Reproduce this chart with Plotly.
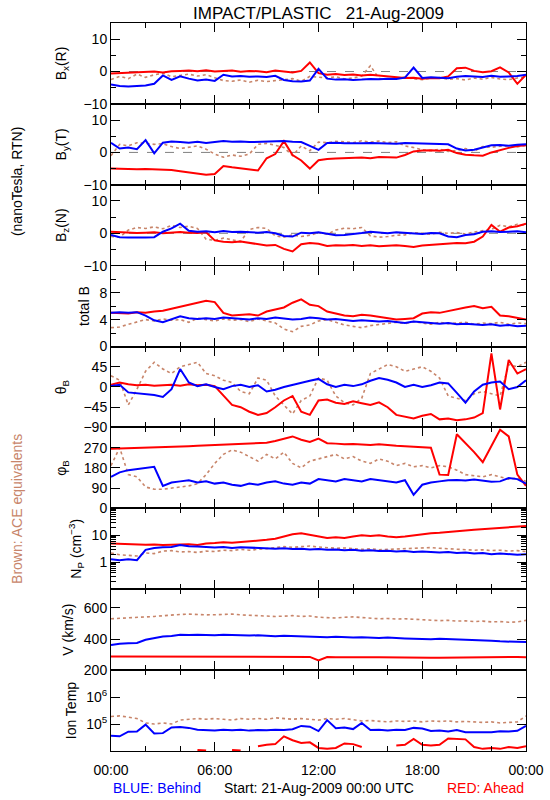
import plotly.graph_objects as go
from plotly.subplots import make_subplots

HOURS = [0, 0.5, 1, 1.5, 2, 2.5, 3, 3.5, 4, 4.5, 5, 5.5, 6, 6.5, 7, 7.5, 8, 8.5, 9, 9.5,
         10, 10.5, 11, 11.5, 12, 12.5, 13, 13.5, 14, 14.5, 15, 15.5, 16, 16.5, 17, 17.5,
         18, 18.5, 19, 19.5, 20, 20.5, 21, 21.5, 22, 22.5, 23, 23.5, 24]

# Bx (R)
BX_B = [-4.0, -4.5, -4.6, -4.4, -4.3, -3.8, -1.2, -2.6, -1.5, -2.2, -2.8, -2.5, -2.9, -1.0, -1.5, -1.4, -1.6, -1.5, -1.7, -1.3, -2.6, -3.0, -3.1, -2.8, 0.8, -2.2, -2.5, -2.4, -2.6, -2.5, -2.3, -2.4, -2.2, -2.3, -1.9, 1.2, -2.0, -1.8, -2.0, -2.1, -1.6, -1.4, -1.5, -1.7, -1.3, -1.6, -1.5, -1.4, -1.0]
BX_A = [-0.6, -0.5, -0.4, -0.2, -0.1, 0.0, -0.3, 0.1, 0.2, 0.3, 0.1, 0.4, 0.0, 0.2, 0.3, -0.1, 0.2, 0.1, -0.2, 0.3, 0.0, -0.3, 0.2, 2.8, -0.5, -1.0, -0.8, -1.1, -0.9, -1.2, -1.0, -1.3, -1.6, -1.8, -2.0, -1.9, -2.2, -2.0, -2.1, -1.5, 1.0, 1.2, 0.2, -0.2, 0.1, 1.3, -0.3, -3.8, -1.0]
BX_C = [-2.5, -1.5, -2.2, -0.8, -1.8, -1.0, -0.5, -1.6, -1.2, -0.8, -1.4, -1.0, -1.9, -2.8, -3.0, -2.6, -3.3, -2.7, -3.1, -2.9, -2.5, -2.2, -3.0, -1.5, -1.8, -2.0, -1.6, -2.3, -2.0, -1.4, 1.8, -2.2, -2.4, -2.0, -1.7, -2.3, -2.5, -2.1, -1.9, -2.4, -2.2, -2.6, -2.0, -2.4, -1.8, -2.3, -2.5, -2.0, -1.6]

# By (T)
BY_B = [3.0, 1.2, 1.5, 1.0, 3.8, -0.3, 3.0, 3.4, 3.2, 3.0, 3.3, 2.9, 3.2, 3.5, 3.3, 3.4, 3.2, 3.3, 3.4, 3.3, 3.5, 3.3, 3.2, 2.0, 0.8, 2.9, 3.0, 2.8, 2.7, 2.8, 2.9, 2.8, 2.6, 2.7, 2.9, 2.8, 2.7, 2.6, 2.7, 2.5, 1.2, 0.6, 0.8, 1.5, 2.2, 2.3, 2.1, 2.4, 2.5]
BY_A = [-5.0, -5.1, -5.0, -5.2, -5.1, -5.2, -5.3, -5.4, -5.8, -6.2, -6.6, -6.9, -6.7, -4.2, -4.6, -5.0, -5.4, -5.6, -1.8, -0.5, 3.5, -0.8, -2.5, -5.0, -2.4, -2.0, -1.9, -1.8, -1.7, -1.6, -1.8, -1.4, -1.5, -1.6, -0.8, 0.3, 0.6, 0.7, 0.5, 0.8, -0.2, -0.7, -0.9, -1.0, 0.0, 0.8, 1.4, 2.0, 2.2]
BY_C = [-1.0, 2.5, 2.0, 3.0, 2.8, 2.5, 2.7, 1.8, 1.2, 1.5, 2.0, 1.0, -0.5, -1.5, -0.8, -1.2, -0.5, 2.5, 2.8, 2.2, 1.5, -1.0, 2.0, 0.5, 3.2, 3.0, 3.4, 3.3, 3.0, 3.6, 3.2, 3.5, 3.0, 3.3, 2.0, 1.5, 0.8, 0.5, 1.0, 0.3, 0.6, 1.2, 0.4, 1.8, 1.6, 1.9, 2.0, 1.7, 2.2]

# Bz (N)
BZ_B = [-0.5, -1.2, -1.3, -1.4, -1.3, -1.2, 0.5, 1.5, 3.0, 0.8, 0.5, 0.6, 0.3, 0.7, 0.4, 0.5, 0.3, 0.2, 0.4, 0.0, -0.8, -1.0, 0.2, 0.0, 0.3, -0.2, -0.6, -0.5, -0.3, 0.1, 0.5, 0.2, 0.0, 0.3, 0.1, 0.0, -0.2, 0.1, 0.0, -1.0, -1.2, -0.5, -0.3, 0.5, 0.6, 0.4, 0.5, 0.6, 0.3]
BZ_A = [0.5, 0.3, 0.2, 0.1, 0.2, 0.3, 0.0, 0.2, 0.4, 0.2, 0.1, 0.3, -2.2, -2.6, -2.8, -2.5, -3.0, -3.5, -3.8, -3.6, -4.8, -5.6, -3.4, -3.0, -3.2, -3.9, -3.7, -3.8, -3.6, -3.9, -3.7, -4.0, -3.8, -3.7, -3.9, -4.2, -3.8, -3.6, -3.5, -3.2, -3.0, -3.1, -2.6, -1.0, 2.6, 0.5, 1.8, 2.2, 3.0]
BZ_C = [-1.0, -1.2, 1.0, 1.8, 1.5, 2.0, 1.4, 2.4, 1.8, 2.2, 1.5, -1.8, -2.2, -1.5, -2.0, -2.5, 1.2, 1.8, 1.5, -0.8, -1.2, -0.5, -1.0, -0.6, 0.2, -0.3, 1.0, 1.6, 1.4, 1.8, -0.8, -1.2, -1.0, -0.6, -0.5, 0.2, 0.0, -0.3, 0.3, 0.0, 0.2, -0.2, 0.4, 0.8, 1.2, 2.5, 2.0, 2.8, 2.4]

# total B
TB_B = [5.0, 5.1, 5.0, 5.1, 4.6, 3.9, 3.6, 4.0, 4.5, 4.2, 4.1, 4.2, 4.1, 4.3, 4.2, 4.1, 4.0, 4.2, 4.1, 4.3, 4.2, 4.0, 4.1, 4.3, 4.2, 4.0, 4.1, 3.9, 3.8, 3.9, 3.8, 3.7, 3.8, 3.6, 3.5, 3.7, 3.6, 3.5, 3.4, 3.5, 3.3, 3.4, 3.3, 3.2, 3.3, 3.1, 3.2, 3.0, 3.1]
TB_A = [5.0, 5.0, 4.9, 5.1, 5.0, 5.2, 5.3, 5.6, 5.9, 6.2, 6.5, 6.8, 6.6, 5.0, 4.6, 4.7, 4.8, 4.6, 5.2, 5.5, 5.8, 6.5, 7.0, 6.2, 6.0, 5.2, 4.9, 4.6, 4.5, 4.7, 4.6, 4.4, 4.2, 4.0, 4.1, 4.2, 4.9, 5.1, 5.0, 5.3, 5.6, 5.8, 6.0, 5.7, 5.9, 4.6, 4.5, 4.2, 4.0]
TB_C = [2.8, 2.9, 3.3, 3.6, 4.0, 3.8, 4.1, 3.9, 4.0, 3.6, 4.2, 4.0, 3.8, 4.1, 3.9, 4.0, 3.7, 4.1, 3.8, 3.5, 2.6, 2.2, 3.0, 3.2, 3.8, 4.0, 3.6, 3.2, 3.0, 2.8, 3.1, 3.3, 3.5, 3.6, 3.4, 3.7, 3.5, 3.3, 3.6, 3.4, 3.5, 3.6, 3.3, 3.5, 3.4, 3.6, 3.3, 3.5, 3.4]

# theta_B
TH_B = [2, 5, -12, -14, -15, -18, -22, -5, 40, 10, 2, 6, 0, -5, 2, 5, 0, 4, -10, -6, 0, 5, 10, 14, 18, 6, 0, 5, 2, 6, 14, 20, 16, 10, 0, 5, 0, 4, 10, 8, -13, -35, -10, 5, 10, 12, -5, 0, 15]
TH_A = [5, 10, 6, 4, 5, 3, 4, 5, 3, 6, 4, 5, 2, -20, -40, -45, -55, -62, -58, -45, -30, -20, -55, -62, -30, -28, -35, -38, -32, -36, -40, -34, -45, -62, -66, -70, -64, -60, -72, -70, -74, -72, -68, -58, 75, -50, 60, 30, 40]
TH_C = [25, 15, -40, -5, 35, 55, 40, 30, 45, 50, 55, 30, 25, 15, 10, -10, -15, 20, 15, -20, -40, -60, -30, -20, 20, 15, -20, -35, -40, -25, 30, 40, 50, 45, 35, 40, 45, 35, 20, -20, -25, -30, -15, -10, -15, -20, 50, 45, 55]

# phi_B
PH_B = [140, 160, 170, 175, 180, 185, 100, 115, 120, 125, 115, 120, 110, 115, 105, 100, 110, 105, 115, 120, 110, 105, 115, 110, 130, 125, 120, 130, 125, 120, 130, 125, 120, 115, 125, 60, 105, 115, 120, 125, 126, 124, 128, 122, 118, 120, 135, 130, 110]
PH_A = [265, 266, 268, 267, 270, 271, 272, 274, 275, 276, 278, 280, 282, 284, 286, 285, 288, 290, 292, 300, 310, 320, 305, 295, 310, 290, 288, 285, 286, 284, 282, 285, 280, 278, 276, 274, 272, 270, 150, 148, 330, 290, 250, 205, 280, 350, 320, 150, 100]
PH_C = [190, 270, 150, 140, 95, 85, 85, 90, 95, 100, 110, 150, 200, 240, 260, 250, 230, 210, 240, 220, 250, 200, 180, 210, 220, 230, 240, 220, 230, 210, 200, 220, 210, 190, 200, 185, 190, 180, 190, 185, 170, 150, 145, 140, 150, 140, 130, 135, 120]

# proton density
NP_B = [1.3, 1.2, 1.3, 1.2, 2.9, 3.4, 3.6, 3.7, 4.4, 3.9, 3.8, 3.6, 3.5, 3.7, 3.4, 3.6, 3.5, 3.3, 3.4, 3.2, 3.3, 3.1, 3.2, 3.0, 3.1, 2.9, 3.0, 2.8, 2.9, 2.7, 2.8, 2.6, 2.7, 2.5, 2.6, 2.4, 2.5, 2.4, 2.3, 2.4, 2.2, 2.3, 2.1, 2.2, 2.0, 2.1, 2.0, 1.9, 2.0]
NP_A = [5.0, 4.8, 4.7, 4.6, 4.5, 4.6, 4.4, 4.5, 4.6, 4.7, 4.4, 5.0, 5.2, 5.5, 5.3, 5.6, 5.8, 6.2, 6.8, 7.5, 9.0, 11.0, 12.0, 10.5, 9.0, 8.0, 8.5, 8.0, 9.0, 10.0, 9.5, 10.0, 9.0, 8.5, 9.0, 10.0, 11.0, 12.0, 12.5, 13.0, 14.0, 15.0, 16.0, 17.0, 18.0, 19.0, 20.0, 21.0, 22.0]
NP_C = [2.2, 1.9, 1.8, 1.7, 2.2, 2.1, 2.6, 2.7, 2.4, 2.5, 2.3, 2.6, 2.5, 2.8, 2.7, 3.0, 2.8, 2.9, 3.2, 3.5, 3.8, 3.6, 3.9, 4.0, 3.7, 3.5, 3.3, 3.4, 3.1, 3.0, 3.2, 2.9, 3.0, 3.1, 3.3, 3.4, 3.6, 3.5, 3.3, 3.2, 3.0, 2.9, 2.8, 2.9, 2.7, 2.8, 2.6, 2.7, 2.5]

# bulk speed
V_B = [362, 370, 373, 375, 395, 405, 416, 420, 427, 425, 428, 426, 424, 427, 425, 423, 422, 424, 420, 418, 421, 419, 417, 415, 416, 412, 414, 411, 410, 412, 408, 406, 409, 405, 404, 402, 400, 398, 401, 399, 396, 398, 394, 390, 388, 385, 384, 382, 380]
V_A = [287, 287, 286, 287, 286, 287, 286, 287, 286, 286, 287, 286, 285, 286, 285, 286, 285, 285, 286, 285, 284, 285, 284, 285, 262, 284, 283, 284, 283, 282, 283, 282, 281, 282, 281, 280, 280, 279, 280, 281, 280, 281, 282, 283, 282, 284, 283, 284, 283]
V_C = [530, 534, 538, 540, 542, 545, 550, 555, 558, 560, 556, 555, 556, 558, 560, 555, 552, 550, 548, 545, 547, 550, 545, 548, 540, 538, 535, 540, 542, 538, 535, 530, 532, 528, 530, 526, 522, 520, 518, 520, 515, 517, 512, 515, 510, 512, 508, 510, 520]

# ion temperature
T_B = [3.7e4, 3.5e4, 5.2e4, 5.3e4, 9.5e4, 4.5e4, 4.6e4, 7.5e4, 7.8e4, 7.2e4, 6.2e4, 6.0e4, 5.8e4, 6.2e4, 5.9e4, 6.1e4, 5.7e4, 6.0e4, 5.9e4, 6.2e4, 6.0e4, 6.4e4, 8.5e4, 8.0e4, 5.5e4, 1.4e5, 7.0e4, 7.5e4, 6.5e4, 1.1e5, 6.0e4, 6.2e4, 5.8e4, 6.1e4, 6.0e4, 7.2e4, 6.8e4, 5.5e4, 5.8e4, 5.3e4, 6.0e4, 5.0e4, 4.9e4, 5.1e4, 5.0e4, 5.4e4, 5.3e4, 5.6e4, 8.5e4]
T_A = [None, None, None, None, None, None, None, None, None, None, 1.1e4, 1.05e4, None, None, 1.1e4, 1.05e4, None, 1.5e4, 1.7e4, 1.8e4, 3.5e4, 2.5e4, 2.0e4, 2.1e4, 1.3e4, 1.2e4, 1.3e4, 1.9e4, 1.8e4, 1.4e4, None, None, None, 1.6e4, 1.7e4, 2.8e4, 1.7e4, 1.6e4, 1.7e4, 2.9e4, 2.8e4, 2.7e4, 1.4e4, 1.2e4, 1.3e4, 1.2e4, 1.4e4, 1.3e4, 1.5e4]
T_C = [1.9e5, 2.0e5, 1.8e5, 1.6e5, 1.1e5, 1.0e5, 1.1e5, 1.0e5, 1.4e5, 1.5e5, 1.6e5, 1.5e5, 1.6e5, 1.5e5, 1.4e5, 1.6e5, 1.5e5, 1.6e5, 1.5e5, 1.7e5, 1.6e5, 1.5e5, 1.6e5, 1.5e5, 1.4e5, 1.6e5, 1.5e5, 1.6e5, 1.4e5, 1.3e5, 1.35e5, 1.3e5, 1.2e5, 1.3e5, 1.25e5, 1.3e5, 1.2e5, 1.3e5, 1.25e5, 1.3e5, 1.2e5, 1.25e5, 1.2e5, 1.15e5, 1.2e5, 1.1e5, 1.15e5, 1.2e5, 2.0e5]

X_TICKS = [0, 6, 12, 18, 24]
X_TICKTEXT = ["00:00", "06:00", "12:00", "18:00", "00:00"]

BLUE = "#0000ff"
RED = "#ff0000"
BROWN = "#c8856a"
FONT = "Liberation Sans, Arial, sans-serif"
M = "\u2212"

panels = [
    dict(b=BX_B, a=BX_A, c=BX_C, title="B<sub>x</sub>(R)", range=[-10, 15], tickvals=[-10, 0, 10], ticktext=[M + "10", "0", "10"], minor=5, zero=True, standoff=13),
    dict(b=BY_B, a=BY_A, c=BY_C, title="B<sub>y</sub>(T)", range=[-10, 15], tickvals=[-10, 0, 10], ticktext=[M + "10", "0", "10"], minor=5, zero=True, standoff=13),
    dict(b=BZ_B, a=BZ_A, c=BZ_C, title="B<sub>z</sub>(N)", range=[-10, 15], tickvals=[-10, 0, 10], ticktext=[M + "10", "0", "10"], minor=5, zero=True, standoff=13),
    dict(b=TB_B, a=TB_A, c=TB_C, title="total B", range=[0, 12], tickvals=[0, 4, 8], ticktext=["0", "4", "8"], minor=2, zero=False, standoff=6),
    dict(b=TH_B, a=TH_A, c=TH_C, title="\u03b8<sub>B</sub>", range=[-90, 90], tickvals=[-90, -45, 0, 45], ticktext=[M + "90", M + "45", "0", "45"], minor=None, zero=False, standoff=13),
    dict(b=PH_B, a=PH_A, c=PH_C, title="\u03c6<sub>B</sub>", range=[0, 360], tickvals=[0, 90, 180, 270], ticktext=["0", "90", "180", "270"], minor=None, zero=False, standoff=13),
    dict(b=NP_B, a=NP_A, c=NP_C, title="N<sub>P</sub> (cm<sup>\u22123</sup>)", range=[-1, 2], tickvals=[1, 10], ticktext=["1", "10"], minor="log", zero=False, log=True, standoff=6),
    dict(b=V_B, a=V_A, c=V_C, title="V (km/s)", range=[200, 720], tickvals=[200, 400, 600], ticktext=["200", "400", "600"], minor=None, zero=False, standoff=6),
    dict(b=T_B, a=T_A, c=T_C, title="Ion Temp", range=[4, 7], tickvals=[1e5, 1e6], ticktext=["10<sup>5</sup>", "10<sup>6</sup>"], minor=None, zero=False, log=True, standoff=6),
]

fig = make_subplots(rows=9, cols=1, shared_xaxes=True, vertical_spacing=0)

for i, p in enumerate(panels, start=1):
    fig.add_trace(go.Scatter(x=HOURS, y=p["c"], mode="lines",
                             line=dict(color=BROWN, width=1.6, dash="dot"),
                             connectgaps=False, hoverinfo="skip"), row=i, col=1)
    fig.add_trace(go.Scatter(x=HOURS, y=p["a"], mode="lines",
                             line=dict(color=RED, width=2),
                             connectgaps=False, hoverinfo="skip"), row=i, col=1)
    fig.add_trace(go.Scatter(x=HOURS, y=p["b"], mode="lines",
                             line=dict(color=BLUE, width=2),
                             connectgaps=False, hoverinfo="skip"), row=i, col=1)
    if p["zero"]:
        fig.add_hline(y=0, row=i, col=1, line=dict(color="#808080", width=1, dash="dash"), layer="below")

    yax = dict(range=p["range"], tickvals=p["tickvals"], ticktext=p["ticktext"],
               ticks="inside", ticklen=9, tickwidth=1, tickcolor="black",
               showline=True, linecolor="black", linewidth=1, mirror="ticks",
               showgrid=False, zeroline=False, automargin=False,
               title=dict(text=p["title"], standoff=p["standoff"], font=dict(size=14)),
               tickfont=dict(size=14))
    if p.get("log"):
        yax["type"] = "log"
    if p["minor"] == "log":
        yax["minor"] = dict(ticks="inside", ticklen=5, tickcolor="black", dtick="D1", showgrid=False)
    elif p["minor"]:
        yax["minor"] = dict(ticks="inside", ticklen=5, tickcolor="black", dtick=p["minor"], showgrid=False)
    fig.update_yaxes(row=i, col=1, **yax)

fig.update_xaxes(range=[0, 24], tickvals=X_TICKS, ticktext=X_TICKTEXT,
                 ticks="inside", ticklen=9, tickwidth=1, tickcolor="black",
                 showline=True, linecolor="black", linewidth=1, mirror="ticks",
                 showgrid=False, zeroline=False, tickfont=dict(size=14), automargin=False,
                 minor=dict(ticks="inside", ticklen=5, tickcolor="black", dtick=2, tick0=0, showgrid=False))
fig.update_xaxes(row=9, col=1, ticklabelstandoff=6)

fig.update_layout(
    width=550, height=800, autosize=False,
    margin=dict(l=111, r=24, t=23, b=49),
    paper_bgcolor="white", plot_bgcolor="white", showlegend=False,
    font=dict(family=FONT, size=14, color="black"),
)

annots = [
    dict(text="IMPACT/PLASTIC\u00a0\u00a0\u00a021-Aug-2009", x=0.5, y=1.0137, xanchor="center", yanchor="middle", font=dict(size=17, color="black")),
    dict(text="(nanoTesla, RTN)", x=-0.228, y=0.782, xanchor="center", yanchor="middle", textangle=-90, font=dict(size=14, color="black")),
    dict(text="Brown: ACE equivalents", x=-0.228, y=0.333, xanchor="center", yanchor="middle", textangle=-90, font=dict(size=14, color=BROWN)),
    dict(text="BLUE: Behind", x=0.0, y=-0.0508, xanchor="left", yanchor="middle", font=dict(size=14, color=BLUE)),
    dict(text="Start: 21-Aug-2009 00:00 UTC", x=0.5, y=-0.0508, xanchor="center", yanchor="middle", font=dict(size=14, color="black")),
    dict(text="RED: Ahead", x=1.0, y=-0.0508, xanchor="right", yanchor="middle", font=dict(size=14, color=RED)),
]
for a in annots:
    fig.add_annotation(xref="paper", yref="paper", showarrow=False, **a)

fig.write_html("out.html", config={"displayModeBar": False, "staticPlot": True},
               post_script="document.body.style.margin='0';document.body.style.overflow='hidden';")
